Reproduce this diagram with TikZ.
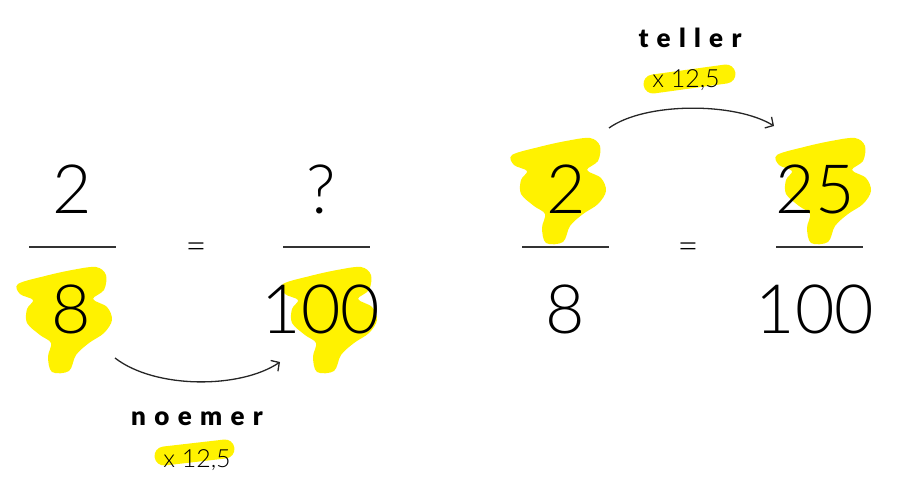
\documentclass[tikz,border=0pt]{standalone}
\usepackage{fontspec}
\setmainfont{Lato Light}
\newfontfamily\labelfont{Lato Black}[LetterSpace=32]
\usetikzlibrary{arrows.meta}
\tikzstyle{bigDigit}=[inner sep = 0pt, anchor = base, font = \fontsize{68}{68}\selectfont]
\tikzstyle{eqSign}=[inner sep = 0pt, font = \fontsize{36}{36}\selectfont]
\tikzstyle{fracBar}=[draw = black!80, line width = 1.4pt]
\tikzstyle{wordLabel}=[inner sep = 0pt, anchor = base, font = \labelfont\fontsize{26}{26}\selectfont]
\tikzstyle{factorLabel}=[inner sep = 0pt, anchor = base, font = \fontsize{25}{25}\selectfont]
\tikzstyle{marker}=[draw = yellow, line width = 19pt, line cap = round]
\tikzstyle{bendArrow}=[draw = black!85, line width = 1.3pt, -{Straight Barb[length = 6pt, width = 13pt]}]

\begin{document}
\begin{tikzpicture}[x = 1pt, y = -1pt]
\tikzset{yBlob/.pic = {\fill[yellow] plot[smooth cycle, tension = 0.55] coordinates {(18,284) (45,276) (72,270) (96,267) (106,275) (104,290) (93,299) (107,307) (112,320) (104,333) (89,343) (76,355) (69,371) (52,372) (48,357) (51,343) (40,335) (27,323) (27,309) (33,300) (20,294)};}}
\useasboundingbox (0,0) rectangle (901,501);
% highlights
\pic at (0,0) {yBlob};
\pic at (265,0) {yBlob};
\pic at (494,-129) {yBlob};
\pic at (759,-129) {yBlob};
\draw[marker] (164,456) -- (225,449);
\draw[marker] (653,84) -- (726,74);
% left fraction pair
\node[bigDigit] (lNum) at (72,213) {2};
\node[bigDigit] (lDen) at (71,333) {8};
\draw[fracBar] (29,247) -- (116,247);
\node[eqSign] (lEq) at (196,251) {=};
\node[bigDigit] (lNumQ) at (321,213) {?};
\node[bigDigit] (lDenH) at (321,333) {100};
\draw[fracBar] (283,247) -- (370,247);
% right fraction pair
\node[bigDigit] (rNum) at (566,213) {2};
\node[bigDigit] (rDen) at (565,333) {8};
\draw[fracBar] (522,247) -- (609,247);
\node[eqSign] (rEq) at (688,251) {=};
\node[bigDigit] (rNumT) at (815,213) {25};
\node[bigDigit] (rDenH) at (815,333) {100};
\draw[fracBar] (776,247) -- (863,247);
% arrows and labels
\coordinate (lArrowStart) at (115,358);
\coordinate (lArrowEnd) at (280,362);
\draw[bendArrow] (lArrowStart) .. controls (155,389) and (240,389) .. (lArrowEnd);
\node[wordLabel] (noemer) at (197,425) {noemer};
\node[factorLabel] (lFactor) at (197,467) {x 12,5};
\coordinate (rArrowStart) at (609,128);
\coordinate (rArrowEnd) at (774,126);
\draw[bendArrow] (rArrowStart) .. controls (645,102) and (735,102) .. (rArrowEnd);
\node[wordLabel] (teller) at (690,47) {teller};
\node[factorLabel] (rFactor) at (686,87) {x 12,5};
\end{tikzpicture}
\end{document}
